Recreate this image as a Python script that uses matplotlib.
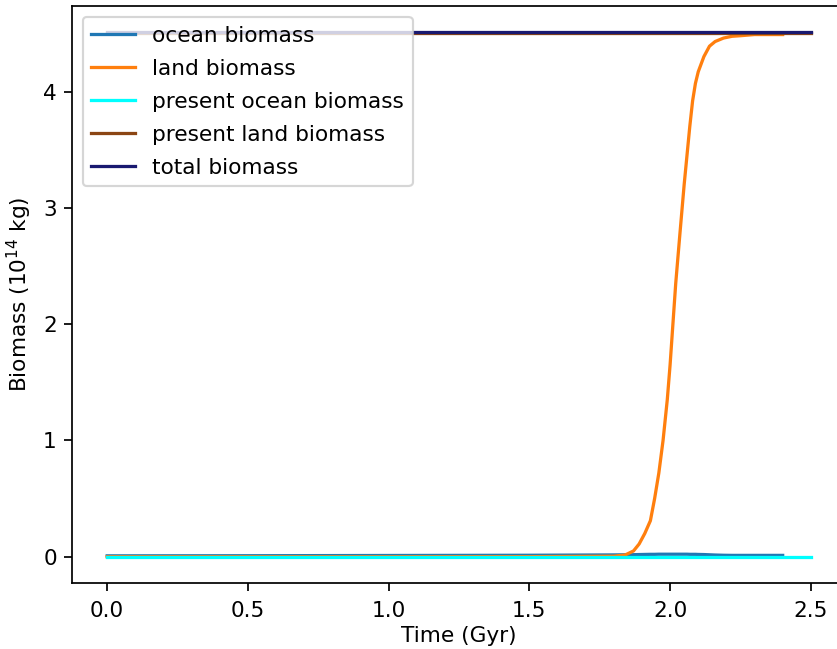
import numpy as np
import matplotlib
matplotlib.use('Agg')
import matplotlib.pyplot as plt

# model output, biomass in 1e14 kg
t_model = [0.0, 0.5, 1.0, 1.5, 1.80, 1.84, 1.87, 1.89, 1.91, 1.93, 1.945, 1.96,
           1.975, 1.99, 2.00, 2.01, 2.02, 2.035, 2.05, 2.06, 2.07, 2.08, 2.09,
           2.10, 2.12, 2.14, 2.16, 2.19, 2.22, 2.25, 2.30, 2.40]
ocean = [0.008, 0.009, 0.011, 0.013, 0.016, 0.017, 0.018, 0.019, 0.020, 0.021, 0.021, 0.022,
         0.022, 0.022, 0.022, 0.022, 0.022, 0.022, 0.022, 0.022, 0.021, 0.021, 0.021,
         0.020, 0.019, 0.017, 0.015, 0.013, 0.012, 0.012, 0.012, 0.012]
land = [0.0, 0.0, 0.0, 0.001, 0.005, 0.015, 0.05, 0.11, 0.20, 0.31, 0.50, 0.72,
        1.00, 1.35, 1.65, 2.00, 2.35, 2.78, 3.20, 3.45, 3.70, 3.92, 4.07,
        4.17, 4.30, 4.39, 4.43, 4.46, 4.475, 4.48, 4.49, 4.49]

# reference levels
t_ref = [0.0, 2.5]
present_ocean = [0.002, 0.002]
present_land = [4.5, 4.5]
total = [4.51, 4.51]

dpi = 156
fig = plt.figure(figsize=(838 / dpi, 649 / dpi), dpi=dpi)
ax = fig.add_axes([72 / 838, 66 / 649, 774 / 838, 577 / 649])

ax.plot(t_model, ocean, label='ocean biomass')
ax.plot(t_model, land, label='land biomass')
ax.plot(t_ref, present_ocean, color='cyan', label='present ocean biomass')
ax.plot(t_ref, present_land, color='saddlebrown', label='present land biomass')
ax.plot(t_ref, total, color='midnightblue', label='total biomass')

ax.tick_params(axis='x', pad=5)
ax.set_xlabel('Time (Gyr)', labelpad=2)
ax.set_ylabel(r'Biomass ($10^{14}$ kg)')
ax.legend(loc='upper left', labelspacing=0.6)

plt.savefig('out.png', dpi=dpi)
